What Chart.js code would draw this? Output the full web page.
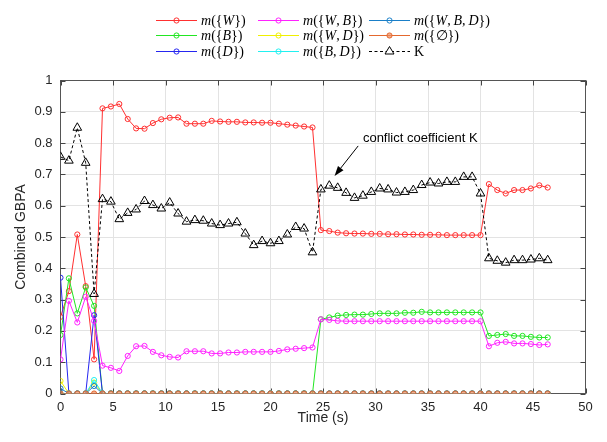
<!DOCTYPE html>
<html>
<head>
<meta charset="utf-8">
<script src="https://cdn.jsdelivr.net/npm/chart.js"></script>
<style>
  body { margin: 0; background: #fff; }
  #wrap { position: relative; width: 607px; height: 442px; }
  #legend { position: absolute; left: 0; top: 0; width: 607px; height: 62px; }
  .lg-item { position: absolute; height: 15px; font-family: "Liberation Serif", "DejaVu Serif", serif; font-size: 14px; line-height: 15px; color: #000; white-space: nowrap; }
  .lg-item svg { position: absolute; left: 0; top: 0; }
  .lg-item span { position: absolute; left: 45px; top: 0; }
</style>
</head>
<body>
<div id="wrap">
  <canvas id="gbpaChart" width="607" height="442"></canvas>
  <div id="legend"></div>
</div>
<script>
// time axis (s)
const times = [0, 0.8, 1.6, 2.4, 3.2, 4, 4.8, 5.6, 6.4, 7.2,
  8, 8.8, 9.6, 10.4, 11.2, 12, 12.8, 13.6, 14.4, 15.2,
  16, 16.8, 17.6, 18.4, 19.2, 20, 20.8, 21.6, 22.4, 23.2,
  24, 24.8, 25.6, 26.4, 27.2, 28, 28.8, 29.6, 30.4, 31.2,
  32, 32.8, 33.6, 34.4, 35.2, 36, 36.8, 37.6, 38.4, 39.2,
  40, 40.8, 41.6, 42.4, 43.2, 44, 44.8, 45.6, 46.4];

const mW = [0.245, 0.327, 0.508, 0.343, 0.109, 0.911, 0.917, 0.925, 0.877, 0.847,
  0.846, 0.864, 0.876, 0.881, 0.882, 0.862, 0.862, 0.862, 0.871, 0.869,
  0.868, 0.868, 0.866, 0.866, 0.865, 0.865, 0.862, 0.859, 0.856, 0.853,
  0.850, 0.522, 0.519, 0.514, 0.512, 0.511, 0.511, 0.510, 0.510, 0.509,
  0.509, 0.508, 0.508, 0.507, 0.507, 0.507, 0.506, 0.506, 0.506, 0.506,
  0.506, 0.669, 0.650, 0.639, 0.650, 0.650, 0.655, 0.665, 0.658];

const mB = [0.187, 0.368, 0.256, 0.339, 0.280, 0, 0, 0, 0, 0,
  0, 0, 0, 0, 0, 0, 0, 0, 0, 0,
  0, 0, 0, 0, 0, 0, 0, 0, 0, 0,
  0, 0.237, 0.243, 0.249, 0.251, 0.252, 0.252, 0.254, 0.256, 0.256,
  0.256, 0.258, 0.258, 0.261, 0.259, 0.259, 0.259, 0.259, 0.259, 0.259,
  0.259, 0.184, 0.187, 0.190, 0.184, 0.184, 0.181, 0.179, 0.179];

const mD = [0.370, 0, 0, 0, 0.250, 0, 0, 0, 0, 0,
  0, 0, 0, 0, 0, 0, 0, 0, 0, 0,
  0, 0, 0, 0, 0, 0, 0, 0, 0, 0,
  0, 0, 0, 0, 0, 0, 0, 0, 0, 0,
  0, 0, 0, 0, 0, 0, 0, 0, 0, 0,
  0, 0, 0, 0, 0, 0, 0, 0, 0];

const mWB = [0.109, 0.296, 0.227, 0.309, 0.232, 0.089, 0.082, 0.072, 0.120, 0.151,
  0.152, 0.133, 0.122, 0.117, 0.115, 0.135, 0.135, 0.135, 0.128, 0.128,
  0.131, 0.131, 0.133, 0.133, 0.133, 0.133, 0.136, 0.141, 0.143, 0.145,
  0.147, 0.237, 0.235, 0.232, 0.231, 0.231, 0.231, 0.231, 0.231, 0.231,
  0.231, 0.231, 0.231, 0.231, 0.231, 0.231, 0.231, 0.231, 0.231, 0.231,
  0.231, 0.151, 0.162, 0.165, 0.160, 0.160, 0.158, 0.155, 0.157];

const mWD = [0.040, 0, 0, 0, 0.035, 0, 0, 0, 0, 0,
  0, 0, 0, 0, 0, 0, 0, 0, 0, 0,
  0, 0, 0, 0, 0, 0, 0, 0, 0, 0,
  0, 0, 0, 0, 0, 0, 0, 0, 0, 0,
  0, 0, 0, 0, 0, 0, 0, 0, 0, 0,
  0, 0, 0, 0, 0, 0, 0, 0, 0];

const mBD = [0, 0, 0, 0, 0.043, 0, 0, 0, 0, 0,
  0, 0, 0, 0, 0, 0, 0, 0, 0, 0,
  0, 0, 0, 0, 0, 0, 0, 0, 0, 0,
  0, 0, 0, 0, 0, 0, 0, 0, 0, 0,
  0, 0, 0, 0, 0, 0, 0, 0, 0, 0,
  0, 0, 0, 0, 0, 0, 0, 0, 0];

const mWBD = [0.016, 0, 0, 0, 0.024, 0, 0, 0, 0, 0,
  0, 0, 0, 0, 0, 0, 0, 0, 0, 0,
  0, 0, 0, 0, 0, 0, 0, 0, 0, 0,
  0, 0, 0, 0, 0, 0, 0, 0, 0, 0,
  0, 0, 0, 0, 0, 0, 0, 0, 0, 0,
  0, 0, 0, 0, 0, 0, 0, 0, 0];

const mEmpty = [0, 0, 0, 0, 0, 0, 0, 0, 0, 0,
  0, 0, 0, 0, 0, 0, 0, 0, 0, 0,
  0, 0, 0, 0, 0, 0, 0, 0, 0, 0,
  0, 0, 0, 0, 0, 0, 0, 0, 0, 0,
  0, 0, 0, 0, 0, 0, 0, 0, 0, 0,
  0, 0, 0, 0, 0, 0, 0, 0, 0];

// conflict coefficient
const K = [0.756, 0.744, 0.849, 0.737, 0.318, 0.621, 0.613, 0.557, 0.577, 0.588,
  0.615, 0.602, 0.591, 0.610, 0.575, 0.549, 0.554, 0.552, 0.543, 0.538,
  0.543, 0.547, 0.511, 0.474, 0.487, 0.480, 0.487, 0.508, 0.532, 0.527,
  0.451, 0.652, 0.664, 0.657, 0.641, 0.625, 0.632, 0.644, 0.655, 0.652,
  0.642, 0.644, 0.650, 0.666, 0.674, 0.671, 0.676, 0.676, 0.692, 0.692,
  0.639, 0.432, 0.424, 0.418, 0.426, 0.426, 0.428, 0.432, 0.426];

const xTicks = [0, 5, 10, 15, 20, 25, 30, 35, 40, 45, 50];
const yTicks = [0, 0.1, 0.2, 0.3, 0.4, 0.5, 0.6, 0.7, 0.8, 0.9, 1];

// plot order (last one ends up on top), legend html and colours
const series = [
  { data: mW,     color: "#ff3030", html: "<i>m</i>({<i>W</i>})" },
  { data: mB,     color: "#22e622", html: "<i>m</i>({<i>B</i>})" },
  { data: mD,     color: "#2626f0", html: "<i>m</i>({<i>D</i>})" },
  { data: mWB,    color: "#ff22ff", html: "<i>m</i>({<i>W</i>,&thinsp;<i>B</i>})" },
  { data: mWD,    color: "#f0f000", html: "<i>m</i>({<i>W</i>,&thinsp;<i>D</i>})" },
  { data: mBD,    color: "#22f0f0", html: "<i>m</i>({<i>B</i>,&thinsp;<i>D</i>})" },
  { data: mWBD,   color: "#1a7fc8", html: "<i>m</i>({<i>W</i>,&thinsp;<i>B</i>,&thinsp;<i>D</i>})" },
  { data: mEmpty, color: "#e4682e", fill: "rgba(236,140,95,0.7)", html: "<i>m</i>({&#8709;})" },
  { data: K,      color: "#000000", dashed: true, html: "K" }
];

const datasets = series.map((s, i) => ({
  data: times.map((t, j) => ({ x: t, y: s.data[j] })),
  borderColor: s.color,
  borderWidth: 1,
  borderDash: s.dashed ? [3, 2.5] : [],
  pointStyle: s.dashed ? "triangle" : "circle",
  pointRadius: s.dashed ? 5 : 2.6,
  pointBorderWidth: 1,
  pointBorderColor: s.color,
  pointBackgroundColor: s.fill || "rgba(255,255,255,0)",
  fill: false,
  tension: 0,
  order: series.length - i
}));

// box, inward ticks and the K note
const frame = {
  id: "frame",
  beforeDatasetsDraw(chart) {
    const { ctx, chartArea: a, scales: { x, y } } = chart;
    ctx.save();
    ctx.strokeStyle = "#555";
    ctx.lineWidth = 1;
    ctx.strokeRect(a.left, a.top, a.right - a.left, a.bottom - a.top);
    ctx.strokeStyle = "#444";
    ctx.beginPath();
    xTicks.forEach(v => {
      const px = Math.round(x.getPixelForValue(v)) + 0.5;
      ctx.moveTo(px, a.bottom); ctx.lineTo(px, a.bottom - 5);
      ctx.moveTo(px, a.top); ctx.lineTo(px, a.top + 5);
    });
    yTicks.forEach(v => {
      const py = Math.round(y.getPixelForValue(v)) + 0.5;
      ctx.moveTo(a.left, py); ctx.lineTo(a.left + 5, py);
      ctx.moveTo(a.right, py); ctx.lineTo(a.right - 5, py);
    });
    ctx.stroke();
    ctx.restore();
  },
  afterDraw(chart) {
    const { ctx, scales: { x, y } } = chart;
    ctx.save();
    ctx.fillStyle = "#000";
    ctx.font = "13px 'Liberation Sans', Arial, sans-serif";
    ctx.textBaseline = "middle";
    ctx.fillText("conflict coefficient K", x.getPixelForValue(28.8), y.getPixelForValue(0.815));

    const x1 = x.getPixelForValue(28.35), y1 = y.getPixelForValue(0.791);
    const x2 = x.getPixelForValue(26.1), y2 = y.getPixelForValue(0.695);
    const ang = Math.atan2(y2 - y1, x2 - x1);
    const len = 10, half = 3.5;
    const bx = x2 - len * Math.cos(ang), by = y2 - len * Math.sin(ang);
    ctx.strokeStyle = "#000";
    ctx.lineWidth = 1;
    ctx.beginPath();
    ctx.moveTo(x1, y1);
    ctx.lineTo(bx, by);
    ctx.stroke();
    ctx.beginPath();
    ctx.moveTo(x2, y2);
    ctx.lineTo(bx - half * Math.sin(ang), by + half * Math.cos(ang));
    ctx.lineTo(bx + half * Math.sin(ang), by - half * Math.cos(ang));
    ctx.closePath();
    ctx.fill();
    ctx.restore();
  }
};

const tickFont = { family: "'Liberation Sans', Arial, sans-serif", size: 13 };

new Chart(document.getElementById("gbpaChart"), {
  type: "line",
  data: { datasets: datasets },
  options: {
    responsive: false,
    animation: false,
    devicePixelRatio: 1,
    layout: { padding: { top: 80.5, right: 21.5, left: 0, bottom: 0 } },
    plugins: {
      legend: { display: false },
      tooltip: { enabled: false }
    },
    scales: {
      x: {
        type: "linear",
        min: 0,
        max: 50,
        afterBuildTicks: s => { s.ticks = xTicks.map(v => ({ value: v })); },
        afterFit: s => { s.height = 48.5; },
        ticks: { font: tickFont, color: "#262626", padding: 6, maxRotation: 0 },
        grid: { color: "#e3e3e3", drawTicks: false },
        border: { display: false },
        title: {
          display: true,
          text: "Time (s)",
          color: "#262626",
          font: { family: "'Liberation Sans', Arial, sans-serif", size: 14 },
          padding: { top: 0, bottom: 15 }
        }
      },
      y: {
        min: 0,
        max: 1,
        afterBuildTicks: s => { s.ticks = yTicks.map(v => ({ value: v })); },
        afterFit: s => { s.width = 60.5; },
        ticks: {
          font: tickFont,
          color: "#262626",
          padding: 8,
          callback: v => String(Number(v.toFixed(1)))
        },
        grid: { color: "#e3e3e3", drawTicks: false },
        border: { display: false },
        title: {
          display: true,
          text: "Combined GBPA",
          color: "#262626",
          font: { family: "'Liberation Sans', Arial, sans-serif", size: 14 },
          padding: { top: 13, bottom: 0 }
        }
      }
    }
  },
  plugins: [frame]
});

// legend, 3 x 3 like the figure
const legendCols = [156, 258, 369];
const legendRows = [20.5, 35.5, 51];
const legendOrder = [[0, 3, 6], [1, 4, 7], [2, 5, 8]];
const legendBox = document.getElementById("legend");

legendOrder.forEach((row, r) => {
  row.forEach((idx, c) => {
    const s = series[idx];
    const item = document.createElement("div");
    item.className = "lg-item";
    item.style.left = legendCols[c] + "px";
    item.style.top = (legendRows[r] - 7.5) + "px";
    let marker;
    if (s.dashed) {
      marker = '<polygon points="20.5,2.5 25,10 16,10" fill="#fff" stroke="#000" stroke-width="1"/>';
    } else {
      marker = '<circle cx="20.5" cy="7.5" r="2.6" fill="' + (s.fill || "none") + '" stroke="' + s.color + '" stroke-width="1"/>';
    }
    item.innerHTML =
      '<svg width="42" height="15">' +
      '<line x1="0" y1="7.5" x2="41" y2="7.5" stroke="' + s.color + '" stroke-width="1"' +
      (s.dashed ? ' stroke-dasharray="3 2.5"' : '') + '/>' +
      marker + '</svg><span>' + s.html + '</span>';
    legendBox.appendChild(item);
  });
});
</script>
</body>
</html>
